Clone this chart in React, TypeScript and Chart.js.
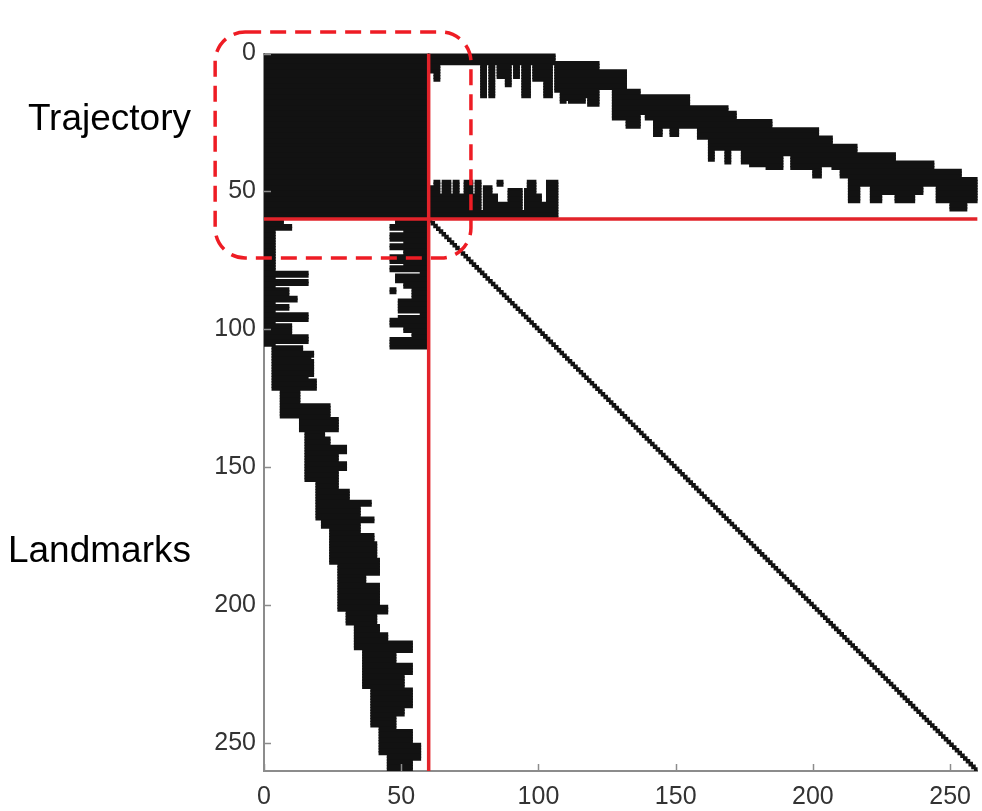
import React, { useEffect, useRef } from 'react';
import { Chart, registerables } from 'chart.js';

Chart.register(...registerables);

// ---- structure of the matrix ----
const N_POSES = 60;     // trajectory block size
const N_TOTAL = 260;    // matrix size
const xTickValues = [0, 50, 100, 150, 200, 250];
const yTickValues = [0, 50, 100, 150, 200, 250];
const sideLabels = ['Trajectory', 'Landmarks'];
const sideLabelRows = [24, 180.5];

// landmark rows 60..259 : first observing pose (inclusive) and last (exclusive)
const landmarkFirst = [
  0, 0, 0, 0, 0, 0, 0, 0, 0, 0,
  0, 0, 0, 0, 0, 0, 0, 0, 0, 0,
  0, 0, 0, 0, 0, 0, 0, 0, 0, 0,
  0, 0, 0, 0, 0, 0, 0, 0, 0, 0,
  0, 0, 0, 0, 0, 0, 3, 3, 3, 3,
  3, 3, 3, 3, 3, 3, 3, 3, 3, 3,
  3, 3, 6, 6, 6, 6, 6, 6, 6, 6,
  6, 6, 13, 13, 13, 13, 13, 15, 15, 15,
  15, 15, 15, 15, 15, 15, 15, 15, 15, 15,
  15, 15, 15, 15, 15, 19, 19, 19, 19, 19,
  19, 19, 19, 19, 19, 19, 19, 19, 19, 21,
  21, 21, 24, 24, 24, 24, 24, 24, 24, 24,
  24, 24, 24, 24, 24, 27, 27, 27, 27, 27,
  27, 27, 27, 27, 27, 27, 27, 27, 27, 27,
  27, 27, 30, 30, 30, 30, 30, 33, 33, 33,
  33, 33, 33, 33, 33, 33, 36, 36, 36, 36,
  36, 36, 36, 36, 36, 36, 36, 36, 36, 36,
  39, 39, 39, 39, 39, 39, 39, 39, 39, 39,
  39, 39, 39, 39, 42, 42, 42, 42, 42, 42,
  42, 42, 42, 42, 45, 45, 45, 45, 45, 45,
];
const landmarkLast = [
  7, 7, 10, 10, 4, 4, 4, 4, 4, 4,
  4, 4, 4, 4, 4, 4, 4, 4, 4, 16,
  16, 4, 16, 16, 4, 9, 9, 9, 12, 12,
  4, 9, 9, 4, 16, 16, 16, 4, 10, 10,
  10, 10, 16, 16, 16, 4, 14, 14, 18, 18,
  17, 18, 18, 18, 18, 18, 18, 16, 19, 19,
  19, 19, 13, 13, 13, 13, 13, 24, 24, 24,
  24, 24, 27, 27, 27, 27, 27, 22, 22, 24,
  24, 24, 30, 30, 30, 27, 27, 27, 30, 30,
  30, 27, 27, 27, 27, 27, 27, 27, 31, 31,
  31, 31, 39, 39, 35, 35, 35, 35, 40, 40,
  35, 35, 35, 35, 40, 40, 40, 41, 41, 41,
  41, 41, 41, 42, 42, 42, 42, 42, 42, 37,
  37, 37, 42, 42, 42, 42, 42, 42, 42, 42,
  45, 45, 45, 41, 41, 41, 41, 42, 42, 42,
  45, 45, 45, 54, 54, 54, 54, 48, 48, 48,
  48, 54, 54, 54, 54, 51, 51, 51, 51, 51,
  54, 54, 54, 54, 54, 54, 54, 51, 51, 51,
  48, 48, 48, 48, 48, 54, 54, 54, 54, 54,
  57, 57, 57, 57, 57, 57, 54, 54, 54, 54,
];
// loop-closure observations for landmark rows 60..106 (run up to the last pose)
const loopFirst = [
  48, 48, 46, 46, 51, 46, 46, 46, 51, 46,
  46, 51, 51, 46, 46, 46, 51, 46, 46, 57,
  48, 48, 48, 51, 51, 54, 54, 54, 54, 49,
  49, 49, 49, 49, 57, 49, 46, 46, 46, 51,
  51, 54, 54, 46, 46, 46, 46,
];
const extraRows = [85, 86];
const extraFrom = [46, 46];
const extraTo = [48, 48];

type Bar = { x: [number, number]; y: number };

function buildRowIntervals(): [number, number][][] {
  const rowIntervals: [number, number][][] = [];
  for (let i = 0; i < landmarkFirst.length; i++) {
    const iv: [number, number][] = [[landmarkFirst[i], landmarkLast[i]]];
    if (i < loopFirst.length) iv.push([loopFirst[i], N_POSES]);
    rowIntervals.push(iv);
  }
  extraRows.forEach((r, k) => rowIntervals[r - N_POSES].push([extraFrom[k], extraTo[k]]));
  return rowIntervals;
}

function buildBlockBars(rowIntervals: [number, number][][]): Bar[] {
  const bars: Bar[] = [];
  // trajectory rows: full pose block + transposed landmark observations
  for (let p = 0; p < N_POSES; p++) {
    bars.push({ x: [0, N_POSES], y: p + 0.5 });
    let runStart = -1;
    for (let c = N_POSES; c <= N_TOTAL; c++) {
      const on = c < N_TOTAL && rowIntervals[c - N_POSES].some(([a, b]) => p >= a && p < b);
      if (on && runStart < 0) runStart = c;
      if (!on && runStart >= 0) {
        bars.push({ x: [runStart, c], y: p + 0.5 });
        runStart = -1;
      }
    }
  }
  // landmark rows: pose observations
  rowIntervals.forEach((iv, i) => {
    const r = N_POSES + i;
    iv.forEach(([a, b]) => bars.push({ x: [a, b], y: r + 0.5 }));
  });
  return bars;
}

function buildDiagonalBars(): Bar[] {
  const bars: Bar[] = [];
  for (let r = N_POSES; r < N_TOTAL; r++) bars.push({ x: [r, r + 1], y: r + 0.5 });
  return bars;
}

const RED = '#e2232a';
const BOX_RED = '#ee1c24';
const AXIS_GRAY = '#8c8c8c';
const INK = '#121212';
const FONT = '"Liberation Sans", Arial, Helvetica, sans-serif';

const decorPlugin = {
  id: 'decor',
  afterDatasetsDraw(chart: any) {
    const { ctx, chartArea } = chart;
    const xs = chart.scales.x;
    const ys = chart.scales.y;
    ctx.save();
    // inward tick marks
    ctx.strokeStyle = AXIS_GRAY;
    ctx.lineWidth = 1.5;
    yTickValues.forEach((v) => {
      const py = Math.round(ys.getPixelForValue(v)) + 0.5;
      ctx.beginPath();
      ctx.moveTo(chartArea.left, py);
      ctx.lineTo(chartArea.left + 7, py);
      ctx.stroke();
    });
    xTickValues.forEach((v) => {
      const px = Math.round(xs.getPixelForValue(v)) + 0.5;
      ctx.beginPath();
      ctx.moveTo(px, chartArea.bottom);
      ctx.lineTo(px, chartArea.bottom - 7);
      ctx.stroke();
    });
    // dashed rounded box around the trajectory block
    const bx0 = xs.getPixelForValue(-17.8);
    const bx1 = xs.getPixelForValue(75.4);
    const by0 = ys.getPixelForValue(-7.8);
    const by1 = ys.getPixelForValue(74.1);
    ctx.strokeStyle = BOX_RED;
    ctx.lineWidth = 3.5;
    ctx.setLineDash([16, 9]);
    ctx.beginPath();
    (ctx as any).roundRect(bx0, by0, bx1 - bx0, by1 - by0, 30);
    ctx.stroke();
    ctx.setLineDash([]);
    // side labels
    ctx.fillStyle = '#000';
    ctx.font = `37px ${FONT}`;
    ctx.textAlign = 'right';
    ctx.textBaseline = 'middle';
    sideLabels.forEach((t, i) => {
      ctx.fillText(t, chartArea.left - 73, ys.getPixelForValue(sideLabelRows[i]));
    });
    ctx.restore();
  },
};

export default function App() {
  const canvasRef = useRef<HTMLCanvasElement | null>(null);

  useEffect(() => {
    if (!canvasRef.current) return;
    Chart.defaults.font.family = FONT;
    const rowIntervals = buildRowIntervals();
    const blockBars = buildBlockBars(rowIntervals);
    const diagBars = buildDiagonalBars();
    const chart = new Chart(canvasRef.current, {
      type: 'bar',
      data: {
        datasets: [
          {
            type: 'line',
            data: [{ x: N_POSES, y: 0 }, { x: N_POSES, y: N_TOTAL }],
            borderColor: RED,
            borderWidth: 3.5,
            pointRadius: 0,
            order: 0,
          } as any,
          {
            type: 'line',
            data: [{ x: 0, y: N_POSES }, { x: N_TOTAL, y: N_POSES }],
            borderColor: RED,
            borderWidth: 3.5,
            pointRadius: 0,
            order: 0,
          } as any,
          {
            type: 'bar',
            data: blockBars as any,
            backgroundColor: INK,
            borderWidth: 0,
            barPercentage: 1,
            categoryPercentage: 1,
            grouped: false,
            inflateAmount: 0.7,
            order: 1,
          } as any,
          {
            type: 'bar',
            data: diagBars as any,
            backgroundColor: INK,
            borderWidth: 0,
            barPercentage: 1,
            categoryPercentage: 1,
            grouped: false,
            inflateAmount: 0.9,
            order: 1,
          } as any,
        ],
      },
      options: {
        indexAxis: 'y',
        animation: false,
        responsive: false,
        devicePixelRatio: 1,
        layout: { padding: { top: 53.5, right: 0, left: 0, bottom: 0 } },
        plugins: { legend: { display: false }, tooltip: { enabled: false } },
        scales: {
          x: {
            type: 'linear',
            position: 'bottom',
            offset: false,
            min: 0,
            max: N_TOTAL,
            grid: { display: false, drawTicks: false },
            border: { display: true, color: AXIS_GRAY, width: 2 },
            ticks: {
              stepSize: 50,
              includeBounds: false,
              padding: 11,
              color: '#333',
              font: { size: 25 },
              maxRotation: 0,
            },
            afterFit: (s: any) => { s.height = 40; },
          },
          y: {
            type: 'linear',
            position: 'left',
            offset: false,
            reverse: true,
            min: 0,
            max: N_TOTAL,
            grid: { display: false, drawTicks: false },
            border: { display: true, color: AXIS_GRAY, width: 2 },
            ticks: {
              stepSize: 50,
              includeBounds: false,
              padding: 8,
              color: '#333',
              font: { size: 25 },
            },
            afterFit: (s: any) => { s.width = 264; },
          },
        },
      } as any,
      plugins: [decorPlugin],
    });
    return () => chart.destroy();
  }, []);

  return (
    <div style={{ position: 'fixed', left: 0, top: 0, width: 982, height: 811, background: '#fff' }}>
      <canvas ref={canvasRef} width={982} height={811} style={{ display: 'block' }} />
    </div>
  );
}
